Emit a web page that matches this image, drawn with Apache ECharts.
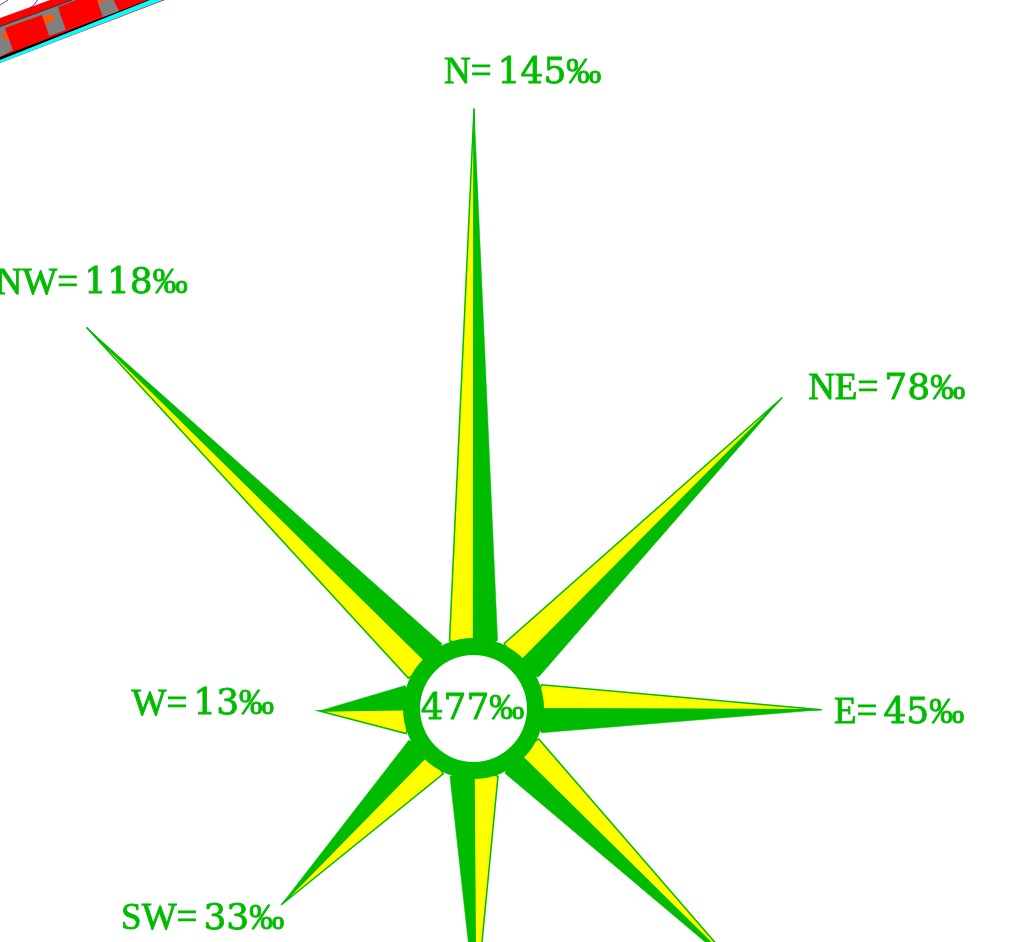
<!DOCTYPE html>
<html><head><meta charset="utf-8">
<style>html,body{margin:0;padding:0;background:#fff}#c{width:1016px;height:942px}</style>
<script src="https://cdn.jsdelivr.net/npm/echarts@6/dist/echarts.min.js"></script></head>
<body><div id="c"></div>
<script>
// Wind rose: frequency per direction (per mille), bearing, and ray length.
const directions = ['N','NE','E','SE','S','SW','W','NW'];
const frequency  = [145,78,45,55,36,33,13,118];
const bearing    = [0.05,44.8,90.2,134.6,179.6,224.4,269.1,314.55];
const rayReach   = [600,438,348,375,300,275,154,543];
const calmValue  = 477;
const unit = '\u2030';

// layout and style, kept apart from the data
const GREEN='#00bb00', YELLOW='#ffff00', FRINGE='#7fe28c';
const RING_OUT=70.5, RING_IN=53.5, BASE_R=72, BASE_SPREAD=19.5, INNER_R=60;
const labelOffset = {N:[-30,-35],NE:[26,-8],E:[12.5,4],W:[-188,-6],SW:[-160,14.5],NW:[-91,-43.5]};
const token = (font,extra) => Object.assign({font,fill:GREEN,stroke:GREEN,lineWidth:0.8,
  textShadowColor:FRINGE,textShadowBlur:0,textShadowOffsetX:1.2,textShadowOffsetY:1,verticalAlign:'middle'},extra);
const RICH = {
  t:token('37px "Liberation Serif"',{padding:[0,6,0,0]}),
  d:token('36px "DejaVu Serif"'),
  p:token('35px "Liberation Serif"')
};
const labelStyle = (head,num) => ({
  text:(head?'{t|'+head+'=}':'')+'{d|'+num+'}{p|'+unit+'}',
  rich:RICH,textAlign:'left',textVerticalAlign:'middle'
});

const chart = echarts.init(document.getElementById('c'),null,{renderer:'canvas'});
chart.setOption({
  animation:false,
  backgroundColor:'#ffffff',
  polar:{center:[473.5,708.5],radius:600},
  radiusAxis:{type:'value',min:0,max:600,show:false},
  angleAxis:{type:'value',min:0,max:360,startAngle:90,clockwise:true,show:false},
  graphic:{elements:[
    {type:'polygon',z:1,shape:{points:[[0,18],[50,0],[165,0],[0,63]]},style:{fill:'#ff0000'}},
    {type:'polygon',z:2,shape:{points:[[0,27],[72,0],[112,0],[96,8],[102,16],[66,30],[58,7],[5,28],[13,50],[0,57]]},style:{fill:'#808080'}},
    {type:'polygon',z:2,shape:{points:[[0,27],[72,0],[113,0],[119,11],[103,17],[96,0],[90,0],[0,40]]},style:{fill:'#808080'}},
    {type:'polygon',z:2,shape:{points:[[42,15],[58,9],[66,30],[49,36]]},style:{fill:'#808080'}},
    {type:'polygon',z:2,shape:{points:[[0,29],[5,28],[13,50],[0,55]]},style:{fill:'#808080'}},
    {type:'polygon',z:2,shape:{points:[[100,3],[113,-1],[119,11],[103,17]]},style:{fill:'#808080'}},
    {type:'line',z:3,shape:{x1:44,y1:20.5,x2:51,y2:18},style:{stroke:'#ff5500',lineWidth:7,lineCap:'round'}},
    {type:'line',z:3,shape:{x1:6,y1:36,x2:12,y2:34},style:{stroke:'#ff5500',lineWidth:7,lineCap:'round'}},
    {type:'line',z:3,shape:{x1:98,y1:0,x2:102,y2:-1},style:{stroke:'#ff5500',lineWidth:6,lineCap:'round'}},
    {type:'polygon',z:4,shape:{points:[[5,28],[42,15],[49,36],[13,50]]},style:{fill:'#ff0000'}},
    {type:'polygon',z:4,shape:{points:[[58,7],[95,-7],[102,16],[66,30]]},style:{fill:'#ff0000'}},
    {type:'line',z:5,shape:{x1:0,y1:26.5,x2:72,y2:0},style:{stroke:'#333333',lineWidth:1}},
    {type:'polygon',z:5,shape:{points:[[0,57],[148,0],[150,0],[0,60]]},style:{fill:'#000000'}},
    {type:'polygon',z:5,shape:{points:[[0,60],[150,0],[163,0],[0,63]]},style:{fill:'#00ffff'}},
    {type:'line',z:5,shape:{x1:0,y1:5,x2:8,y2:0},style:{stroke:'#555555',lineWidth:1}},
    {type:'bezierCurve',z:5,shape:{x1:30,y1:8,x2:38,y2:-1,cpx1:33,cpy1:6,cpx2:36,cpy2:3},style:{stroke:'#2020ff',lineWidth:1,fill:null}}
  ]},
  series:[
    {type:'custom',coordinateSystem:'polar',clip:false,z:10,silent:true,
     encode:{radius:0,angle:1},
     data:rayReach.map((r,i)=>[r,bearing[i],frequency[i]]),
     renderItem(params,api){
       const r=api.value(0), b=api.value(1);
       const tip=api.coord([r,b]), left=api.coord([BASE_R,b-BASE_SPREAD]),
             right=api.coord([BASE_R,b+BASE_SPREAD]), inner=api.coord([INNER_R,b]);
       return {type:'group',children:[
         {type:'polygon',shape:{points:[tip,left,inner]},style:{fill:YELLOW,stroke:GREEN,lineWidth:1.5}},
         {type:'polygon',shape:{points:[tip,right,inner]},style:{fill:GREEN,stroke:GREEN,lineWidth:0.5}}
       ]};
     }},
    {type:'custom',coordinateSystem:'polar',clip:false,z:11,silent:true,
     encode:{radius:0,angle:1},
     data:[[0,0]],
     renderItem(params,api){
       const c=api.coord([0,0]);
       return {type:'ring',shape:{cx:c[0],cy:c[1],r:RING_OUT,r0:RING_IN},style:{fill:GREEN}};
     }},
    {type:'custom',coordinateSystem:'polar',clip:false,z:12,silent:true,
     encode:{radius:0,angle:1},
     data:rayReach.map((r,i)=>[r,bearing[i],frequency[i],i]),
     renderItem(params,api){
       const d=directions[api.value(3)], off=labelOffset[d];
       if(!off) return null;
       const tip=api.coord([api.value(0),api.value(1)]);
       return {type:'text',x:tip[0]+off[0],y:tip[1]+off[1],style:labelStyle(d,api.value(2))};
     }},
    {type:'custom',coordinateSystem:'polar',clip:false,z:12,silent:true,
     encode:{radius:0,angle:1},
     data:[[0,0,calmValue]],
     renderItem(params,api){
       const c=api.coord([0,0]);
       const s=labelStyle('',api.value(2)); s.textAlign='center';
       return {type:'text',x:c[0]-1,y:c[1]+1,style:s};
     }}
  ]
});
</script></body></html>
